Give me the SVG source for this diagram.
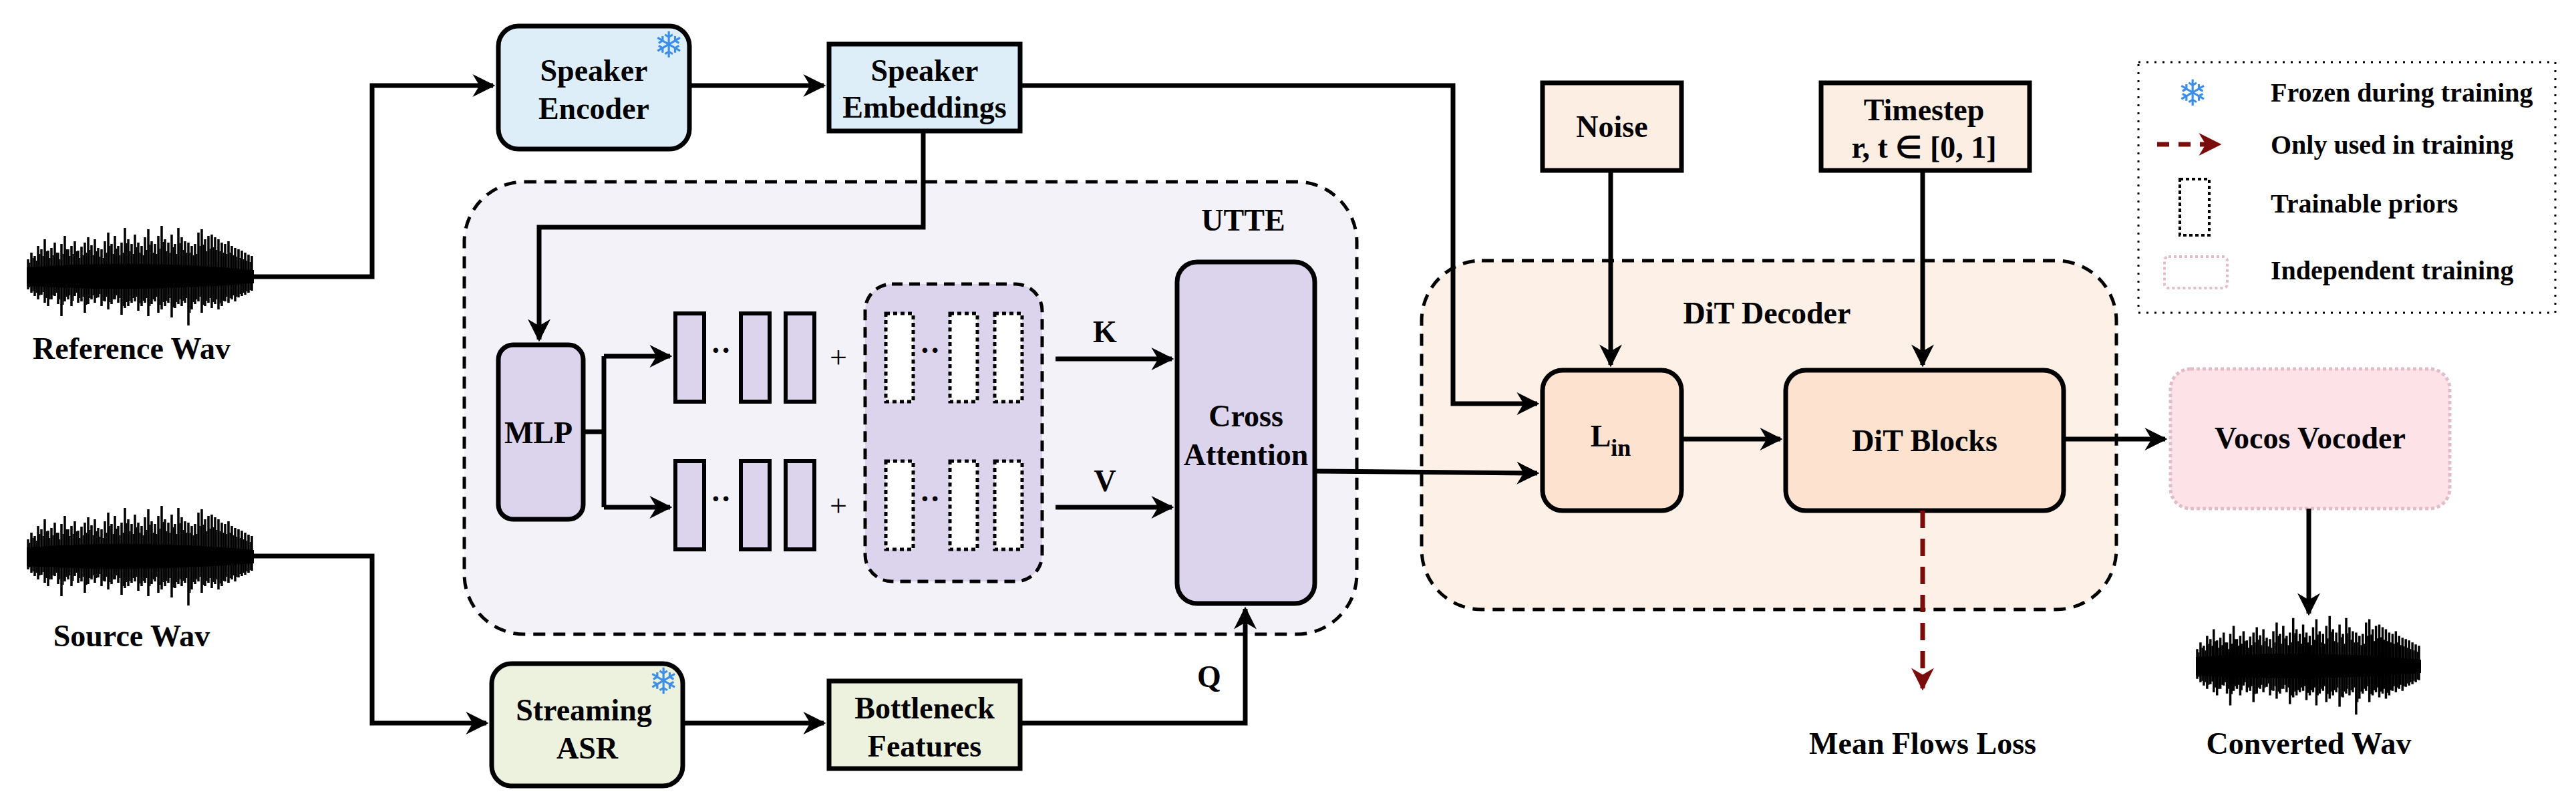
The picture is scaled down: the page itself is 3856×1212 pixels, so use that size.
<svg xmlns="http://www.w3.org/2000/svg" width="3856" height="1212" viewBox="0 0 3856 1212">
<style>
text{font-family:"Liberation Serif","Times New Roman",serif;font-weight:bold;fill:#000;text-anchor:middle}
.t{font-size:46px}
.lg{font-size:40px;text-anchor:start}
.box{stroke:#000;stroke-width:7}
.ln{fill:none;stroke:#000;stroke-width:7}
.snow{font-family:"DejaVu Sans",sans-serif;font-weight:normal;fill:#3b8fe8;font-size:54px}
.bar{fill:#dcd4ec;stroke:#000;stroke-width:6}
.dbar{fill:#fff;stroke:#000;stroke-width:5;stroke-dasharray:6 5}
</style>
<defs>
<marker id="ah" viewBox="0 0 10 10" refX="9" refY="5" markerWidth="34" markerHeight="34" markerUnits="userSpaceOnUse" orient="auto"><path d="M0,0 L10,5 L0,10 L3,5 Z" fill="#000"/></marker>
<marker id="ahr" viewBox="0 0 10 10" refX="9" refY="5" markerWidth="34" markerHeight="34" markerUnits="userSpaceOnUse" orient="auto"><path d="M0,0 L10,5 L0,10 L3,5 Z" fill="#7a0c0c"/></marker>
<symbol id="wave" viewBox="0 0 340 150">
<path d="M0 62Q170 50 340 66V86Q170 100 0 90Z" fill="#000"/>
<path stroke="#000" stroke-width="3.5" fill="none" d="M2 50V95M7 40V100M12 45V105M17 30V110M22 35V103M27 20V115M32 37V120M37 33V110M42 25V105M47 40V117M52 27V135M57 15V113M62 35V110M67 30V120M72 23V105M77 37V115M82 31V113M87 25V130M92 17V117M97 29V110M102 20V115M107 33V107M112 35V120M117 23V113M122 10V125M127 27V117M132 15V110M137 30V115M142 25V133M147 3V123M152 20V120M157 27V115M162 13V113M167 25V127M172 30V120M177 17V115M182 5V135M187 23V117M192 27V113M197 15V130M202 0V125M207 20V120M212 25V115M217 13V137M222 27V123M227 3V117M232 17V120M237 23V115M242 25V149M247 30V125M252 27V117M257 10V113M262 5V130M267 20V120M272 15V115M277 13V123M282 17V117M287 20V125M292 25V120M297 27V113M302 23V115M307 30V110M312 33V113M317 35V107M322 37V105M327 40V103M332 43V100M337 45V97"/>
<path stroke="#000" stroke-width="2" fill="none" d="M4.5 55V92M9.5 48V98M14.5 52V100M19.5 42V104M24.5 45V99M29.5 38V108M34.5 48V110M39.5 44V104M44.5 40V100M49.5 50V110M54.5 42V118M59.5 35V106M64.5 45V104M69.5 42V112M74.5 38V100M79.5 48V108M84.5 44V106M89.5 40V118M94.5 36V108M99.5 44V104M104.5 38V108M109.5 46V102M114.5 48V112M119.5 40V106M124.5 30V114M129.5 42V110M134.5 34V104M139.5 44V108M144.5 40V120M149.5 26V114M154.5 38V112M159.5 42V108M164.5 32V106M169.5 40V116M174.5 44V112M179.5 36V108M184.5 28V120M189.5 40V110M194.5 42V106M199.5 34V118M204.5 24V114M209.5 38V112M214.5 40V108M219.5 32V122M224.5 42V114M229.5 26V110M234.5 36V112M239.5 40V108M244.5 40V130M249.5 44V114M254.5 42V110M259.5 30V106M264.5 28V118M269.5 38V112M274.5 34V108M279.5 32V114M284.5 36V110M289.5 38V116M294.5 40V112M299.5 42V106M304.5 40V108M309.5 44V104M314.5 46V106M319.5 48V102M324.5 50V100M329.5 52V98M334.5 54V96"/>
</symbol>
</defs>

<g id="utte">
<rect x="695" y="272" width="1336" height="677" rx="90" fill="#f3f2f9" stroke="#000" stroke-width="5" stroke-dasharray="18 12"/>
<text class="t" x="1861" y="345">UTTE</text>
</g>
<g id="dit-decoder">
<rect x="2128" y="390" width="1040" height="522" rx="90" fill="#fdf0e6" stroke="#000" stroke-width="5" stroke-dasharray="18 12"/>
<text class="t" x="2645" y="484">DiT Decoder</text>
</g>

<g id="ref-wav"><use href="#wave" x="40" y="338" width="340" height="150"/><text class="t" x="197" y="537">Reference Wav</text></g>
<g id="src-wav"><use href="#wave" x="40" y="757" width="340" height="150"/><text class="t" x="197" y="967">Source Wav</text></g>
<g id="conv-wav"><use href="#wave" x="3287" y="921" width="337" height="150"/><text class="t" x="3456" y="1128">Converted Wav</text></g>

<g id="speaker-encoder">
<rect class="box" x="746" y="39" width="286" height="184" rx="30" fill="#deeef9"/>
<text class="t" x="889" y="121">Speaker</text><text class="t" x="889" y="178">Encoder</text>
<text class="snow" x="1001" y="86">❄</text>
</g>
<g id="speaker-embeddings">
<rect class="box" x="1241" y="66" width="286" height="130" fill="#deeef9"/>
<text class="t" x="1384" y="121">Speaker</text><text class="t" x="1384" y="176">Embeddings</text>
</g>
<g id="mlp">
<rect class="box" x="746" y="516" width="127" height="261" rx="22" fill="#dcd4ec"/>
<text class="t" x="806" y="663">MLP</text>
</g>
<g id="k-priors">
<rect class="bar" x="1011" y="469" width="43" height="132"/>
<rect class="bar" x="1109" y="469" width="43" height="132"/>
<rect class="bar" x="1176" y="469" width="43" height="132"/>
<text class="t" x="1079" y="540">··</text>
<text class="t" x="1255" y="550" style="font-weight:normal">+</text>
</g>
<g id="v-priors">
<rect class="bar" x="1011" y="690" width="43" height="132"/>
<rect class="bar" x="1109" y="690" width="43" height="132"/>
<rect class="bar" x="1176" y="690" width="43" height="132"/>
<text class="t" x="1079" y="762">··</text>
<text class="t" x="1255" y="772" style="font-weight:normal">+</text>
</g>
<g id="trainable-priors">
<rect x="1295" y="425" width="265" height="445" rx="40" fill="#dcd4ec" stroke="#000" stroke-width="5" stroke-dasharray="16 10"/>
<rect class="dbar" x="1326" y="469" width="41" height="132"/>
<rect class="dbar" x="1422" y="469" width="41" height="132"/>
<rect class="dbar" x="1489" y="469" width="41" height="132"/>
<text class="t" x="1392" y="540">··</text>
<rect class="dbar" x="1326" y="690" width="41" height="132"/>
<rect class="dbar" x="1422" y="690" width="41" height="132"/>
<rect class="dbar" x="1489" y="690" width="41" height="132"/>
<text class="t" x="1392" y="762">··</text>
</g>
<g id="cross-attention">
<rect class="box" x="1762" y="392" width="206" height="511" rx="30" fill="#dcd4ec"/>
<text class="t" x="1865" y="638">Cross</text><text class="t" x="1865" y="696">Attention</text>
</g>
<g id="streaming-asr">
<rect class="box" x="736" y="993" width="286" height="183" rx="30" fill="#edf2df"/>
<text class="t" x="874" y="1078">Streaming</text><text class="t" x="879" y="1135">ASR</text>
<text class="snow" x="993" y="1038">❄</text>
</g>
<g id="bottleneck">
<rect class="box" x="1241" y="1019" width="286" height="131" fill="#edf2df"/>
<text class="t" x="1384" y="1075">Bottleneck</text><text class="t" x="1384" y="1132">Features</text>
</g>
<g id="noise">
<rect class="box" x="2309" y="124" width="208" height="131" fill="#fdeee3"/>
<text class="t" x="2413" y="205">Noise</text>
</g>
<g id="timestep">
<rect class="box" x="2726" y="124" width="312" height="131" fill="#fdeee3"/>
<text class="t" x="2880" y="180">Timestep</text><text class="t" x="2880" y="236">r, t  ∈ [0, 1]</text>
</g>
<g id="lin">
<rect class="box" x="2309" y="554" width="208" height="210" rx="30" fill="#fde2d0"/>
<text class="t" x="2411" y="668">L<tspan dy="14" font-size="36">in</tspan></text>
</g>
<g id="dit-blocks">
<rect class="box" x="2673" y="554" width="416" height="210" rx="30" fill="#fde2d0"/>
<text class="t" x="2881" y="675">DiT Blocks</text>
</g>
<g id="vocos">
<rect x="3249" y="552" width="418" height="209" rx="30" fill="#fde3e8" stroke="#e2bccb" stroke-width="5" stroke-dasharray="5 4"/>
<text class="t" x="3458" y="671">Vocos Vocoder</text>
</g>
<g id="mean-flows"><text class="t" x="2878" y="1128">Mean Flows Loss</text></g>

<g id="legend">
<rect x="3201" y="93" width="624" height="375" fill="none" stroke="#000" stroke-width="3" stroke-dasharray="3 9"/>
<text class="snow" x="3282" y="158">❄</text>
<text class="lg" x="3399" y="152">Frozen during training</text>
<path d="M3229 216H3322" stroke="#7a0c0c" stroke-width="7" stroke-dasharray="18 14" fill="none" marker-end="url(#ahr)"/>
<text class="lg" x="3399" y="230">Only used in training</text>
<rect x="3263" y="268" width="44" height="84" fill="none" stroke="#000" stroke-width="4" stroke-dasharray="5 4"/>
<text class="lg" x="3399" y="318">Trainable priors</text>
<rect x="3240" y="384" width="94" height="47" rx="6" fill="none" stroke="#e2bccb" stroke-width="4" stroke-dasharray="4 4"/>
<text class="lg" x="3399" y="418">Independent training</text>
</g>

<g id="connectors">
<path class="ln" d="M380 414H557V128H738" marker-end="url(#ah)"/>
<path class="ln" d="M1032 128H1233" marker-end="url(#ah)"/>
<path class="ln" d="M1527 128H2175V604H2301" marker-end="url(#ah)"/>
<path class="ln" d="M1382 196V340H807V508" marker-end="url(#ah)"/>
<path class="ln" d="M873 646H904M904 533V759"/>
<path class="ln" d="M904 533H1003" marker-end="url(#ah)"/>
<path class="ln" d="M904 759H1003" marker-end="url(#ah)"/>
<path class="ln" d="M1580 537H1754" marker-end="url(#ah)"/>
<path class="ln" d="M1580 759H1754" marker-end="url(#ah)"/>
<text class="t" x="1654" y="512">K</text>
<text class="t" x="1654" y="735">V</text>
<path class="ln" d="M380 832H557V1082H728" marker-end="url(#ah)"/>
<path class="ln" d="M1022 1082H1233" marker-end="url(#ah)"/>
<path class="ln" d="M1527 1082H1864V911" marker-end="url(#ah)"/>
<text class="t" x="1810" y="1028">Q</text>
<path class="ln" d="M1968 705L2301 708" marker-end="url(#ah)"/>
<path class="ln" d="M2411 255V546" marker-end="url(#ah)"/>
<path class="ln" d="M2878 255V546" marker-end="url(#ah)"/>
<path class="ln" d="M2517 657H2665" marker-end="url(#ah)"/>
<path class="ln" d="M3089 657H3241" marker-end="url(#ah)"/>
<path class="ln" d="M3456 761V918" marker-end="url(#ah)"/>
<path d="M2878 764V1030" stroke="#7a0c0c" stroke-width="7" stroke-dasharray="26 16" fill="none" marker-end="url(#ahr)"/>
</g>
</svg>
